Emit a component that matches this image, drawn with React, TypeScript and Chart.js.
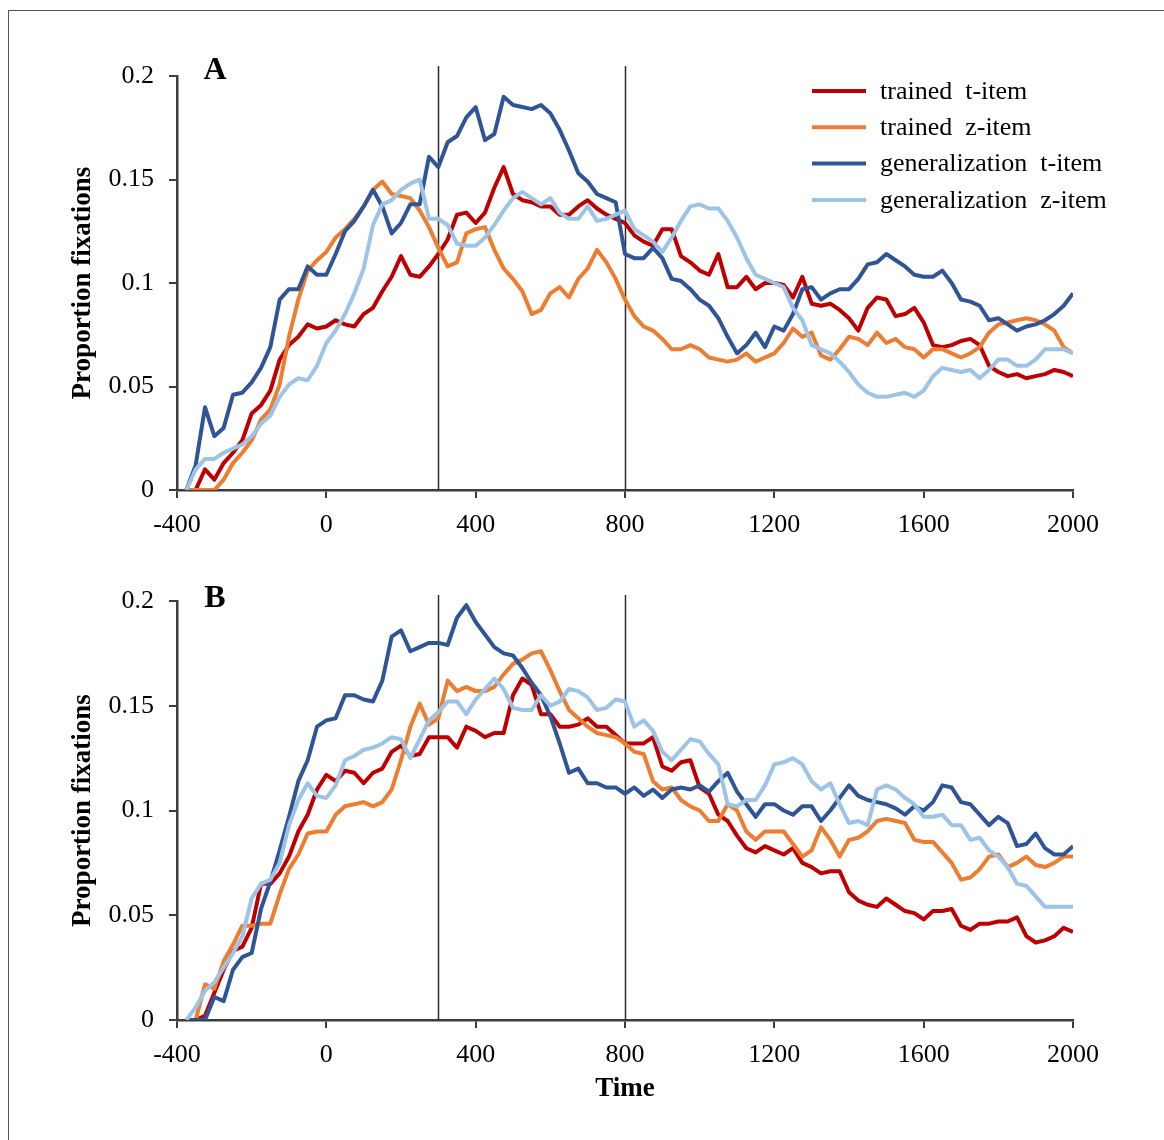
import React, { useEffect, useRef } from "react";
import { Chart, registerables } from "chart.js";

Chart.register(...registerables);

const FONT = "'Liberation Serif', 'Times New Roman', serif";

// time axis (ms) of the sampled curves
const TIME = [
  -375, -350, -325, -300, -275, -250, -225, -200, -175, -150,
  -125, -100, -75, -50, -25, 0, 25, 50, 75, 100,
  125, 150, 175, 200, 225, 250, 275, 300, 325, 350,
  375, 400, 425, 450, 475, 500, 525, 550, 575, 600,
  625, 650, 675, 700, 725, 750, 775, 800,
  825, 850, 875, 900, 925, 950, 975, 1000, 1025, 1050,
  1075, 1100, 1125, 1150, 1175, 1200, 1225, 1250, 1275, 1300,
  1325, 1350, 1375, 1400, 1425, 1450, 1475, 1500, 1525, 1550,
  1575, 1600, 1625, 1650, 1675, 1700, 1725, 1750, 1775, 1800,
  1825, 1850, 1875, 1900, 1925, 1950, 1975, 2000,
];

const SERIES_LABELS = ["trained  t-item", "trained  z-item", "generalization  t-item", "generalization  z-item"];
const SERIES_COLORS = ["#C00000", "#ED7D31", "#2F5597", "#9DC3E6"];

const X_TICKS = [-400, 0, 400, 800, 1200, 1600, 2000];
const Y_TICKS = [0, 0.05, 0.1, 0.15, 0.2];
const MARKERS = [300, 800];

// Panel A
const A_TRAINED_T = [
  0, 0, 0.010, 0.005, 0.013, 0.018, 0.024, 0.037, 0.041, 0.048,
  0.063, 0.070, 0.074, 0.080, 0.078, 0.079, 0.082, 0.080, 0.079, 0.085,
  0.088, 0.096, 0.103, 0.113, 0.104, 0.103, 0.108, 0.114, 0.121, 0.133,
  0.134, 0.129, 0.134, 0.146, 0.156, 0.143, 0.140, 0.139, 0.137, 0.137,
  0.133, 0.133, 0.137, 0.140, 0.136, 0.133, 0.131, 0.129,
  0.123, 0.120, 0.118, 0.126, 0.126, 0.113, 0.110, 0.106, 0.104, 0.114,
  0.098, 0.098, 0.103, 0.097, 0.100, 0.100, 0.099, 0.093, 0.103, 0.090,
  0.089, 0.090, 0.087, 0.083, 0.077, 0.088, 0.093, 0.092, 0.084, 0.085,
  0.088, 0.081, 0.070, 0.069, 0.070, 0.072, 0.073, 0.070, 0.060, 0.057,
  0.055, 0.056, 0.054, 0.055, 0.056, 0.058, 0.057, 0.055,
];
const A_TRAINED_Z = [
  0, 0, 0, 0, 0.005, 0.013, 0.018, 0.024, 0.034, 0.039,
  0.051, 0.074, 0.092, 0.106, 0.111, 0.115, 0.122, 0.126, 0.131, 0.137,
  0.145, 0.149, 0.143, 0.142, 0.141, 0.135, 0.127, 0.117, 0.108, 0.110,
  0.124, 0.126, 0.127, 0.116, 0.107, 0.102, 0.096, 0.085, 0.087, 0.095,
  0.098, 0.093, 0.102, 0.107, 0.116, 0.110, 0.102, 0.092,
  0.084, 0.079, 0.077, 0.073, 0.068, 0.068, 0.070, 0.068, 0.064, 0.063,
  0.062, 0.063, 0.066, 0.062, 0.064, 0.066, 0.071, 0.078, 0.074, 0.076,
  0.065, 0.063, 0.068, 0.074, 0.073, 0.070, 0.076, 0.071, 0.073, 0.069,
  0.068, 0.064, 0.068, 0.068, 0.066, 0.064, 0.066, 0.069, 0.076, 0.080,
  0.081, 0.082, 0.083, 0.082, 0.080, 0.077, 0.069, 0.066,
];
const A_GEN_T = [
  0, 0.012, 0.040, 0.026, 0.030, 0.046, 0.047, 0.052, 0.059, 0.069,
  0.092, 0.097, 0.097, 0.108, 0.104, 0.104, 0.114, 0.125, 0.130, 0.137,
  0.145, 0.137, 0.124, 0.129, 0.138, 0.138, 0.161, 0.156, 0.168, 0.171,
  0.180, 0.185, 0.169, 0.172, 0.190, 0.186, 0.185, 0.184, 0.186, 0.182,
  0.174, 0.164, 0.153, 0.149, 0.143, 0.141, 0.139, 0.114,
  0.112, 0.112, 0.117, 0.112, 0.102, 0.101, 0.097, 0.092, 0.089, 0.083,
  0.074, 0.066, 0.070, 0.076, 0.069, 0.079, 0.077, 0.085, 0.097, 0.098,
  0.092, 0.095, 0.097, 0.097, 0.102, 0.109, 0.110, 0.114, 0.111, 0.108,
  0.104, 0.103, 0.103, 0.106, 0.100, 0.092, 0.091, 0.089, 0.082, 0.083,
  0.080, 0.077, 0.079, 0.080, 0.082, 0.085, 0.089, 0.095,
];
const A_GEN_Z = [
  0, 0.010, 0.015, 0.015, 0.018, 0.020, 0.022, 0.026, 0.032, 0.036,
  0.045, 0.051, 0.054, 0.053, 0.060, 0.071, 0.077, 0.085, 0.095, 0.107,
  0.128, 0.138, 0.140, 0.145, 0.148, 0.150, 0.131, 0.131, 0.128, 0.119,
  0.118, 0.118, 0.122, 0.128, 0.135, 0.141, 0.144, 0.141, 0.138, 0.141,
  0.134, 0.131, 0.131, 0.137, 0.130, 0.131, 0.133, 0.135,
  0.126, 0.123, 0.120, 0.115, 0.122, 0.130, 0.137, 0.138, 0.136, 0.136,
  0.130, 0.122, 0.112, 0.104, 0.102, 0.100, 0.098, 0.088, 0.082, 0.070,
  0.068, 0.066, 0.062, 0.057, 0.051, 0.047, 0.045, 0.045, 0.046, 0.047,
  0.045, 0.048, 0.055, 0.059, 0.058, 0.057, 0.058, 0.054, 0.058, 0.063,
  0.063, 0.060, 0.060, 0.063, 0.068, 0.068, 0.068, 0.066,
];

// Panel B
const B_TRAINED_T = [
  0, 0, 0.002, 0.013, 0.024, 0.033, 0.035, 0.044, 0.065, 0.065,
  0.070, 0.078, 0.090, 0.098, 0.110, 0.117, 0.114, 0.119, 0.118, 0.113,
  0.118, 0.120, 0.128, 0.131, 0.126, 0.127, 0.135, 0.135, 0.135, 0.130,
  0.140, 0.138, 0.135, 0.137, 0.137, 0.155, 0.163, 0.160, 0.146, 0.146,
  0.140, 0.140, 0.141, 0.144, 0.140, 0.140, 0.136, 0.132,
  0.132, 0.132, 0.135, 0.121, 0.119, 0.123, 0.124, 0.111, 0.108, 0.098,
  0.095, 0.088, 0.082, 0.080, 0.083, 0.081, 0.079, 0.082, 0.075, 0.073,
  0.070, 0.071, 0.071, 0.061, 0.057, 0.055, 0.054, 0.058, 0.055, 0.052,
  0.051, 0.048, 0.052, 0.052, 0.053, 0.045, 0.043, 0.046, 0.046, 0.047,
  0.047, 0.049, 0.040, 0.037, 0.038, 0.040, 0.044, 0.042,
];
const B_TRAINED_Z = [
  0, 0, 0.017, 0.015, 0.028, 0.036, 0.045, 0.045, 0.046, 0.046,
  0.060, 0.072, 0.079, 0.089, 0.090, 0.090, 0.098, 0.102, 0.103, 0.104,
  0.102, 0.104, 0.110, 0.124, 0.140, 0.151, 0.141, 0.144, 0.162, 0.157,
  0.159, 0.157, 0.157, 0.159, 0.165, 0.170, 0.172, 0.175, 0.176, 0.167,
  0.157, 0.148, 0.144, 0.140, 0.137, 0.136, 0.135, 0.132,
  0.128, 0.127, 0.114, 0.110, 0.111, 0.105, 0.102, 0.100, 0.095, 0.095,
  0.103, 0.100, 0.090, 0.086, 0.090, 0.090, 0.090, 0.084, 0.078, 0.081,
  0.092, 0.086, 0.078, 0.086, 0.087, 0.090, 0.095, 0.096, 0.095, 0.094,
  0.086, 0.085, 0.085, 0.080, 0.075, 0.067, 0.068, 0.072, 0.078, 0.079,
  0.073, 0.075, 0.078, 0.074, 0.073, 0.075, 0.078, 0.078,
];
const B_GEN_T = [
  0, 0, 0, 0.011, 0.009, 0.024, 0.030, 0.032, 0.053, 0.066,
  0.081, 0.097, 0.114, 0.124, 0.140, 0.143, 0.144, 0.155, 0.155, 0.153,
  0.152, 0.162, 0.183, 0.186, 0.176, 0.178, 0.180, 0.180, 0.179, 0.192,
  0.198, 0.190, 0.184, 0.178, 0.175, 0.174, 0.168, 0.161, 0.155, 0.145,
  0.132, 0.118, 0.120, 0.113, 0.113, 0.111, 0.111, 0.108,
  0.111, 0.107, 0.110, 0.106, 0.110, 0.111, 0.110, 0.112, 0.109, 0.114,
  0.118, 0.109, 0.103, 0.097, 0.103, 0.103, 0.100, 0.098, 0.102, 0.102,
  0.095, 0.100, 0.106, 0.112, 0.107, 0.105, 0.104, 0.103, 0.101, 0.098,
  0.102, 0.100, 0.104, 0.112, 0.111, 0.104, 0.103, 0.098, 0.093, 0.097,
  0.094, 0.083, 0.084, 0.089, 0.082, 0.079, 0.079, 0.083,
];
const B_GEN_Z = [
  0, 0.006, 0.014, 0.018, 0.025, 0.032, 0.040, 0.058, 0.065, 0.067,
  0.075, 0.093, 0.105, 0.113, 0.107, 0.106, 0.112, 0.124, 0.126, 0.129,
  0.130, 0.132, 0.135, 0.134, 0.125, 0.134, 0.143, 0.147, 0.152, 0.152,
  0.146, 0.153, 0.158, 0.163, 0.158, 0.149, 0.148, 0.148, 0.155, 0.150,
  0.152, 0.158, 0.157, 0.154, 0.148, 0.149, 0.153, 0.152,
  0.140, 0.143, 0.138, 0.128, 0.124, 0.129, 0.134, 0.133, 0.127, 0.122,
  0.103, 0.102, 0.105, 0.105, 0.112, 0.122, 0.123, 0.125, 0.122, 0.114,
  0.110, 0.113, 0.103, 0.094, 0.095, 0.093, 0.110, 0.112, 0.110, 0.106,
  0.103, 0.097, 0.097, 0.098, 0.093, 0.093, 0.086, 0.087, 0.081, 0.078,
  0.073, 0.065, 0.064, 0.059, 0.054, 0.054, 0.054, 0.054,
];

type PanelProps = {
  series: number[][];
  letter: string;
  width: number;
  height: number;
  areaTop: number;
  areaBottom: number;
  markerOverhang: number;
  letterBaseline: number;
  showXTitle: boolean;
  showLegend: boolean;
};

function Panel(p: PanelProps) {
  const ref = useRef<HTMLCanvasElement | null>(null);
  useEffect(() => {
    const canvas = ref.current;
    if (!canvas) return;
    const overlay = {
      id: "overlay",
      beforeDatasetsDraw(chart: any) {
        const { ctx, chartArea, scales } = chart;
        ctx.save();
        ctx.strokeStyle = "#2b2b2b";
        ctx.lineWidth = 1.5;
        MARKERS.forEach((m) => {
          const x = Math.round(scales.x.getPixelForValue(m)) + 0.5;
          ctx.beginPath();
          ctx.moveTo(x, chartArea.top - p.markerOverhang);
          ctx.lineTo(x, chartArea.bottom);
          ctx.stroke();
        });
        ctx.restore();
      },
      afterDraw(chart: any) {
        const { ctx } = chart;
        ctx.save();
        ctx.fillStyle = "#000";
        ctx.font = `bold 32px ${FONT}`;
        ctx.textAlign = "center";
        ctx.textBaseline = "alphabetic";
        ctx.fillText(p.letter, 215, p.letterBaseline);
        if (p.showLegend) {
          ctx.font = `26px ${FONT}`;
          ctx.textAlign = "left";
          ctx.textBaseline = "middle";
          SERIES_LABELS.forEach((lab, i) => {
            const y = 91 + i * 36.3;
            ctx.strokeStyle = SERIES_COLORS[i];
            ctx.lineWidth = 4;
            ctx.beginPath();
            ctx.moveTo(812, y);
            ctx.lineTo(866, y);
            ctx.stroke();
            ctx.fillStyle = "#000";
            ctx.fillText(lab, 880, y + 1);
          });
        }
        ctx.restore();
      },
    };
    const chart = new Chart(canvas, {
      type: "line",
      data: {
        datasets: p.series.map((vals, i) => ({
          label: SERIES_LABELS[i],
          data: TIME.map((t, j) => ({ x: t, y: vals[j] })),
          borderColor: SERIES_COLORS[i],
          backgroundColor: SERIES_COLORS[i],
          borderWidth: 4,
          pointRadius: 0,
          tension: 0,
          fill: false,
          borderJoinStyle: "round",
          order: p.series.length - i,
        })),
      },
      options: {
        responsive: false,
        animation: false,
        events: [],
        layout: { padding: { left: 0, top: p.areaTop, right: 91, bottom: 0 } },
        plugins: { legend: { display: false }, tooltip: { enabled: false } },
        scales: {
          x: {
            type: "linear",
            min: -400,
            max: 2000,
            afterBuildTicks: (s: any) => {
              s.ticks = X_TICKS.map((v) => ({ value: v }));
            },
            afterFit: (s: any) => {
              s.height = p.height - p.areaBottom;
            },
            grid: { display: true, drawOnChartArea: false, drawTicks: true, tickLength: 8, color: "#3c3c3c", lineWidth: 2 },
            border: { display: true, color: "#3c3c3c", width: 2.5 },
            ticks: {
              color: "#000",
              font: { family: FONT, size: 26 },
              padding: 12,
              maxRotation: 0,
              autoSkip: false,
              callback: (v: any) => String(v),
            },
            title: {
              display: p.showXTitle,
              text: "Time",
              color: "#000",
              font: { family: FONT, size: 27, weight: "bold" },
              padding: { top: 0, bottom: 35 },
            },
          },
          y: {
            min: 0,
            max: 0.2,
            afterBuildTicks: (s: any) => {
              s.ticks = Y_TICKS.map((v) => ({ value: v }));
            },
            afterFit: (s: any) => {
              s.width = 177;
            },
            grid: { display: true, drawOnChartArea: false, drawTicks: true, tickLength: 8, color: "#3c3c3c", lineWidth: 2 },
            border: { display: true, color: "#3c3c3c", width: 2.5 },
            ticks: {
              color: "#000",
              font: { family: FONT, size: 26 },
              padding: 15,
              callback: (v: any) => String(Math.round(Number(v) * 100) / 100),
            },
            title: {
              display: true,
              text: "Proportion fixations",
              color: "#000",
              font: { family: FONT, size: 27, weight: "bold" },
              padding: { top: 67, bottom: 0 },
            },
          },
        },
      } as any,
      plugins: [overlay],
    });
    return () => chart.destroy();
  }, []);
  return (
    <canvas
      ref={ref}
      width={p.width}
      height={p.height}
      style={{ display: "block", width: p.width + "px", height: p.height + "px" }}
    />
  );
}

export default function App() {
  return (
    <div style={{ position: "absolute", left: 0, top: 0, width: 1164, height: 1140, background: "#fff", overflow: "hidden" }}>
      <div
        style={{
          position: "absolute",
          left: 8,
          top: 10,
          width: 1160,
          height: 1140,
          borderLeft: "1px solid #555",
          borderTop: "1px solid #555",
        }}
      />
      <div style={{ position: "absolute", left: 0, top: 0 }}>
        <Panel
          series={[A_TRAINED_T, A_TRAINED_Z, A_GEN_T, A_GEN_Z]}
          letter="A"
          width={1164}
          height={560}
          areaTop={76}
          areaBottom={490}
          markerOverhang={10}
          letterBaseline={79}
          showXTitle={false}
          showLegend={true}
        />
      </div>
      <div style={{ position: "absolute", left: 0, top: 560 }}>
        <Panel
          series={[B_TRAINED_T, B_TRAINED_Z, B_GEN_T, B_GEN_Z]}
          letter="B"
          width={1164}
          height={580}
          areaTop={41}
          areaBottom={460}
          markerOverhang={6}
          letterBaseline={47}
          showXTitle={true}
          showLegend={false}
        />
      </div>
    </div>
  );
}
